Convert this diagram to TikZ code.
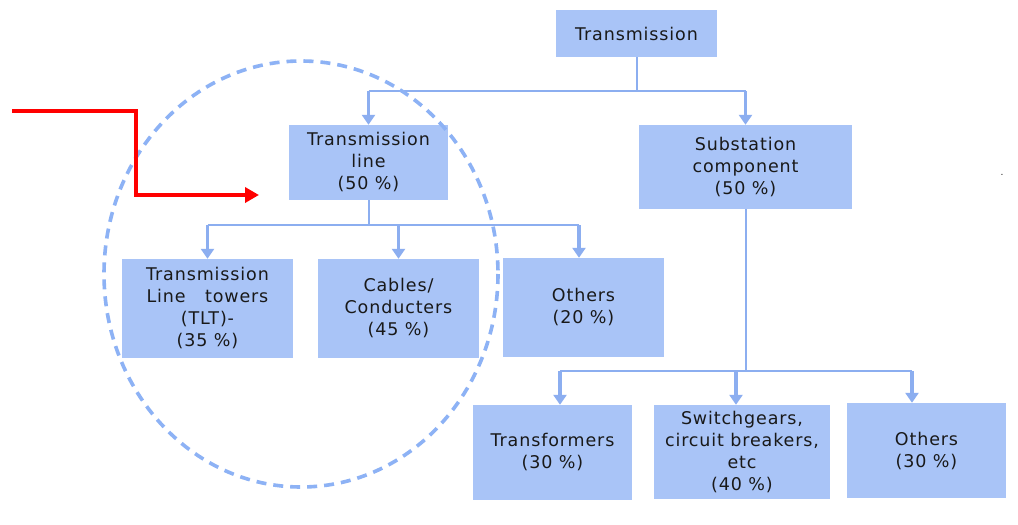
\documentclass[tikz,border=0pt]{standalone}
\usepackage{fontspec}
\setmainfont{DejaVu Sans}[LetterSpace=5]
\usetikzlibrary{arrows.meta}
\definecolor{boxfill}{RGB}{169,196,247}
\definecolor{linec}{RGB}{140,174,240}
\definecolor{ellc}{RGB}{141,178,245}
\definecolor{txt}{RGB}{25,25,25}
\begin{document}
\begin{tikzpicture}[x=1pt,y=-1pt,
  box/.style={fill=boxfill, align=center, inner sep=0pt, text=txt,
    font=\fontsize{17.5}{22}\selectfont},
  trunk/.style={draw=linec, line width=2pt},
  arr/.style={draw=linec, line width=3.2pt, -{Triangle[width=13pt,length=10pt]}},
  redarr/.style={draw=red, line width=3.5pt, -{Triangle[width=15pt,length=14pt]}},
  ring/.style={draw=ellc, line width=3.6pt, dash pattern=on 10pt off 7pt},
]
\useasboundingbox[fill=white] (0,0) rectangle (1018,525);

% boxes
\node[box, minimum width=161pt, minimum height=47pt] (T) at (636.5,33.5) {Transmission};
\node[box, minimum width=159pt, minimum height=75pt] (TL) at (368.5,162.5) {Transmission\\line\\(50 \%)};
\node[box, minimum width=213pt, minimum height=84pt] (SC) at (745.5,167) {Substation\\component\\(50 \%)};
\node[box, minimum width=171pt, minimum height=99pt] (TLT) at (207.5,308.5) {Transmission\\Line\ \ \ towers\\(TLT)-\\(35 \%)};
\node[box, minimum width=161pt, minimum height=99pt] (CB) at (398.5,308.5) {Cables/\\Conducters\\(45 \%)};
\node[box, minimum width=161pt, minimum height=99pt] (O20) at (583.5,307.5) {Others\\(20 \%)};
\node[box, minimum width=159pt, minimum height=95pt] (TR) at (552.5,452.5) {Transformers\\(30 \%)};
\node[box, minimum width=176pt, minimum height=94pt] (SW) at (742,452) {Switchgears,\\circuit breakers,\\etc\\(40 \%)};
\node[box, minimum width=159pt, minimum height=95pt] (O30) at (926.5,450.5) {Others\\(30 \%)};
\node[font=\fontsize{9}{9}\selectfont, text=txt, inner sep=0pt] (dot) at (1002,175) {.};

% level 1
\coordinate (b1) at (636.5,91);
\coordinate (b1l) at (368.5,91);
\coordinate (b1r) at (745.5,91);
\draw[trunk] (T.south) -- (b1);
\draw[trunk] (b1l) -- (b1r);
\draw[arr] (b1l) -- (TL.north);
\draw[arr] (b1r) -- (SC.north);

% level 2 (transmission line)
\coordinate (b2) at (368.5,225);
\coordinate (b2a) at (207.5,225);
\coordinate (b2c) at (579,225);
\draw[trunk] (TL.south) -- (b2);
\draw[trunk] (b2a) -- (b2c);
\draw[arr] (b2a) -- (TLT.north);
\draw[arr] (CB.north |- b2) -- (CB.north);
\draw[arr] (b2c) -- (b2c |- O20.north);

% level 2 (substation)
\coordinate (b3) at (745.5,371);
\coordinate (b3a) at (560,371);
\coordinate (b3b) at (736,371);
\coordinate (b3c) at (912,371);
\draw[trunk] (SC.south) -- (b3);
\draw[trunk] (b3a) -- (b3c);
\draw[arr] (b3a) -- (b3a |- TR.north);
\draw[arr] (b3b) -- (b3b |- SW.north);
\draw[arr] (b3c) -- (b3c |- O30.north);

% dashed ellipse
\draw[ring] (301,274) ellipse [x radius=197, y radius=213];

% red pointer
\coordinate (r0) at (12,111);
\coordinate (r1) at (136,111);
\coordinate (r2) at (136,195);
\coordinate (r3) at (259,195);
\draw[redarr] (r0) -- (r1) -- (r2) -- (r3);
\end{tikzpicture}
\end{document}
